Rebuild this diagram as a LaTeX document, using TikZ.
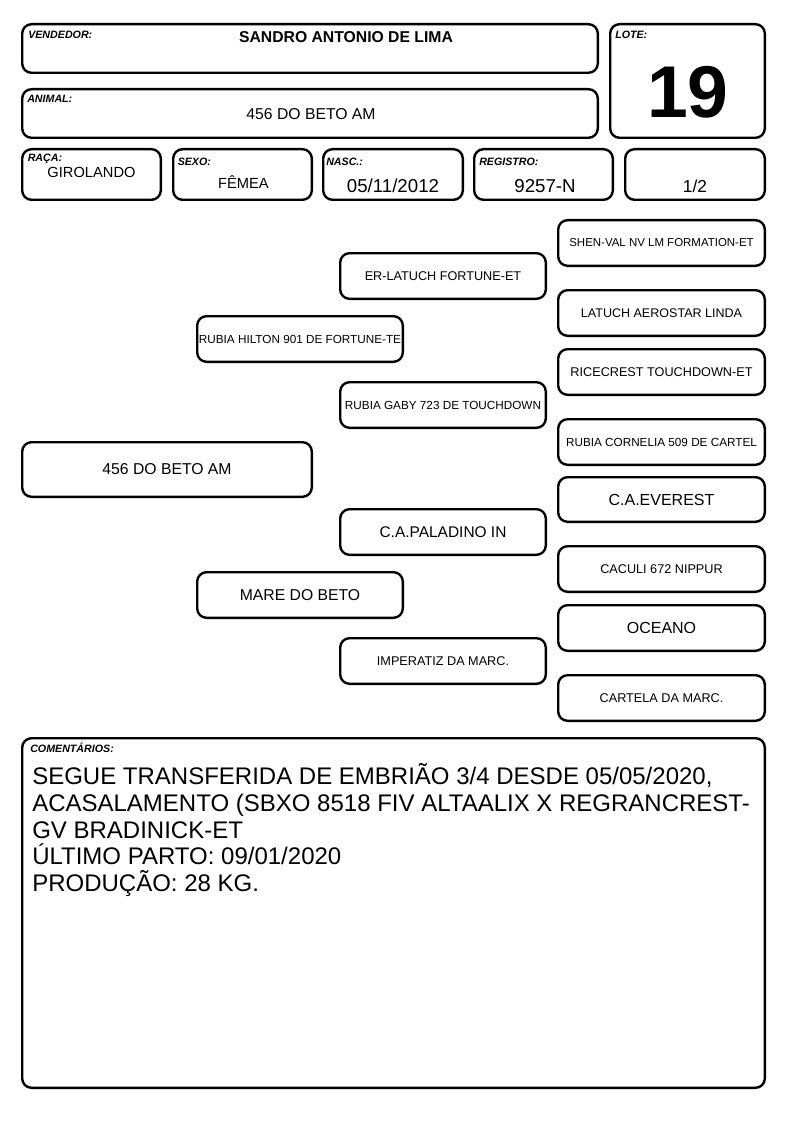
\documentclass[tikz,border=0pt]{standalone}
\usepackage{fontspec}
\setmainfont{Liberation Sans}
\newcommand\fs[1]{\fontsize{#1}{#1}\selectfont}
\newcommand\cardbox[5]{\node[pb, minimum width={0.75pt*(#4-#2)-1.8pt}, minimum height={0.75pt*(#5-#3)-1.8pt}] (#1) at ({(#2+#4)/2},{(#3+#5)/2}) {};}
\newcommand\pedbox[7]{\node[pb, font=\fs{#6}, minimum width={0.75pt*(#4-#2)-1.8pt}, minimum height={0.75pt*(#5-#3)-1.8pt}] (#1) at ({(#2+#4)/2},{(#3+#5)/2}) {#7};}
\begin{document}
\begin{tikzpicture}[x=0.75pt,y=-0.75pt,
  pb/.style={draw, line width=1.8pt, rounded corners=7pt, inner sep=0pt, align=center},
  lbl/.style={anchor=base west, inner sep=0pt, font=\fs{8}\bfseries\itshape},
  val/.style={anchor=base, inner sep=0pt},
  cmt/.style={anchor=base west, inner sep=0pt, font=\fs{18}}]
\useasboundingbox (0,0) rectangle (794,1123);
% header frames
\cardbox{vend}{21}{23}{599}{74}
\cardbox{lote}{609}{23}{766}{139}
\cardbox{anim}{21}{88}{599}{139}
\cardbox{raca}{21}{148}{162}{201}
\cardbox{sexo}{172}{148}{313}{201}
\cardbox{nasc}{322}{148}{464}{201}
\cardbox{reg}{473}{148}{614}{201}
\cardbox{frac}{624}{148}{766}{201}
% header texts
\node[lbl] (lvend) at (28,39) {VENDEDOR:};
\node[val, font=\fs{11.8}\bfseries] (tvend) at (346,43) {SANDRO ANTONIO DE LIMA};
\node[lbl] (lanim) at (27,103) {ANIMAL:};
\node[val, font=\fs{11.8}] (tanim) at (311,120) {456 DO BETO AM};
\node[lbl] (llote) at (615,39) {LOTE:};
\node[val, font=\fs{55}\bfseries] (tlote) at (688,118) {19};
\node[lbl] (lraca) at (27.5,162) {RAÇA:};
\node[val, font=\fs{11}] (traca) at (91.5,178) {GIROLANDO};
\node[lbl] (lsexo) at (177.5,165.5) {SEXO:};
\node[val, font=\fs{11}] (tsexo) at (243.5,189) {FÊMEA};
\node[lbl] (lnasc) at (326,165.5) {NASC.:};
\node[val, font=\fs{14}] (tnasc) at (393,193) {05/11/2012};
\node[lbl] (lreg) at (479,165.5) {REGISTRO:};
\node[val, font=\fs{14}] (treg) at (545,193) {9257-N};
\node[val, font=\fs{13}] (tfrac) at (695,193) {1/2};
% pedigree
\pedbox{p0}{21}{441}{313}{498}{11.8}{456 DO BETO AM}
\pedbox{p1}{196}{315}{404}{363}{8.8}{RUBIA HILTON 901 DE FORTUNE-TE}
\pedbox{p2}{196}{571}{404}{619}{11.8}{MARE DO BETO}
\pedbox{p3}{339}{252}{547}{300}{9.5}{ER-LATUCH FORTUNE-ET}
\pedbox{p4}{339}{381}{547}{429}{8.8}{RUBIA GABY 723 DE TOUCHDOWN}
\pedbox{p5}{339}{508}{547}{556}{11.6}{C.A.PALADINO IN}
\pedbox{p6}{339}{637}{547}{685}{9.5}{IMPERATIZ DA MARC.}
\pedbox{p7}{557}{219}{766}{267}{8.6}{SHEN-VAL NV LM FORMATION-ET}
\pedbox{p8}{557}{289}{766}{337}{9.4}{LATUCH AEROSTAR LINDA}
\pedbox{p9}{557}{348}{766}{396}{9.5}{RICECREST TOUCHDOWN-ET}
\pedbox{p10}{557}{418}{766}{466}{8.8}{RUBIA CORNELIA 509 DE CARTEL}
\pedbox{p11}{557}{476}{766}{523}{12}{C.A.EVEREST}
\pedbox{p12}{557}{545}{766}{593}{9.5}{CACULI 672 NIPPUR}
\pedbox{p13}{557}{604}{766}{652}{12}{OCEANO}
\pedbox{p14}{557}{674}{766}{722}{9.5}{CARTELA DA MARC.}
% comments
\cardbox{com}{21}{737}{766}{1089}
\node[lbl] (lcom) at (30,752.5) {COMENTÁRIOS:};
\node[cmt] (c1) at (32,784.5) {SEGUE TRANSFERIDA DE EMBRIÃO 3/4 DESDE 05/05/2020,};
\node[cmt] (c2) at (32,811.25) {ACASALAMENTO (SBXO 8518 FIV ALTAALIX X REGRANCREST-};
\node[cmt] (c3) at (32,838) {GV BRADINICK-ET};
\node[cmt] (c4) at (32,864.75) {ÚLTIMO PARTO: 09/01/2020};
\node[cmt] (c5) at (32,891.5) {PRODUÇÃO: 28 KG.};
\end{tikzpicture}
\end{document}
